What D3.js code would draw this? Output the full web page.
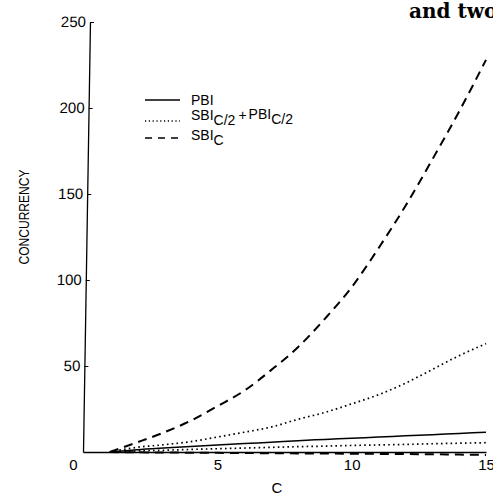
<!DOCTYPE html>
<html>
<head>
<meta charset="utf-8">
<script src="https://cdn.jsdelivr.net/npm/d3@7"></script>
<style>
  body{margin:0;background:#fff;}
  svg{display:block;}
  text{font-family:"Liberation Sans",Arial,Helvetica,sans-serif;fill:#000;}
</style>
</head>
<body>
<script>
// values, C = 1..15
let cVals=[1,2,3,4,5,6,7,8,9,10,11,12,13,14,15];
let pbi=[0,1.3,2.3,3.2,4.0,4.9,5.7,6.6,7.3,8.0,8.7,9.4,10.1,10.8,11.5];
let mixUpper=[0,2.7,4.2,6.0,8.7,11.5,14.5,19.0,23.0,28.0,33.3,40,48,56,63];
let mixLower=[0,0.6,1.0,1.5,1.9,2.3,2.7,3.1,3.4,3.8,4.1,4.4,4.8,5.1,5.4];
let sbiUpper=[0,5.5,11.3,18.1,26.6,35.6,47.6,60.9,77.4,95.8,118.5,143,170,198,228];
let sbiLower=[0,-0.2,-0.3,-0.4,-0.5,-0.6,-0.7,-0.8,-0.9,-1.0,-1.1,-1.2,-1.3,-1.5,-1.7];

let xTicks=[0,5,10,15];
let yTicks=[50,100,150,200,250];

const styles={
  solid:{dash:null,width:1.5},
  dotted:{dash:"1.6,3.2",width:1.7},
  dashed:{dash:"9,6",width:2}
};

let createChart=()=>{
  const w=493, h=496;

  const xScale=d3.scaleLinear().domain([0,15]).range([83,486]);
  const yScale=d3.scaleLinear().domain([0,250]).range([452,22]);

  const svg=d3.select("body")
    .append("svg")
    .attr("width",w)
    .attr("height",h);

  // cut-off caption from the page
  svg.append("text")
    .attr("x",409)
    .attr("y",18)
    .style("font-family","'DejaVu Serif',serif")
    .style("font-weight","bold")
    .style("font-size","20px")
    .text("and two");

  // y axis, the scan leans a little
  const yAxis=d3.axisLeft(yScale)
    .tickValues(yTicks)
    .tickSize(-4)
    .tickSizeOuter(0)
    .tickPadding(4);

  const gy=svg.append("g")
    .attr("transform","translate(0,452) skewX(-0.93) translate(83,-452)")
    .call(yAxis);
  gy.select(".domain").attr("stroke","#000").attr("stroke-width",1.3);
  gy.selectAll(".tick line").attr("stroke","#000").attr("stroke-width",1.2);
  gy.selectAll(".tick text").style("font-size","15px").style("font-family","'Liberation Sans',Arial,sans-serif");

  // x axis
  const xAxis=d3.axisBottom(xScale)
    .tickValues(xTicks)
    .tickSize(0)
    .tickSizeOuter(0)
    .tickPadding(7);

  const gx=svg.append("g")
    .attr("transform","translate(0,452)")
    .call(xAxis);
  gx.select(".domain").attr("stroke","#000").attr("stroke-width",1.3);
  gx.selectAll(".tick text").style("font-size","15px").style("font-family","'Liberation Sans',Arial,sans-serif");
  gx.selectAll(".tick text").filter(d=>d==0).attr("x",-10);

  // axis titles
  svg.append("text")
    .attr("x",277)
    .attr("y",493)
    .attr("text-anchor","middle")
    .style("font-size","15px")
    .text("C");

  svg.append("text")
    .attr("transform","translate(29,217) rotate(-90)")
    .attr("text-anchor","middle")
    .attr("textLength",95)
    .attr("lengthAdjust","spacingAndGlyphs")
    .style("font-size","15px")
    .text("CONCURRENCY");

  // curves
  const series=[
    {vals:pbi,style:"solid"},
    {vals:mixUpper,style:"dotted"},
    {vals:mixLower,style:"dotted"},
    {vals:sbiUpper,style:"dashed"},
    {vals:sbiLower,style:"dashed"}
  ];

  const line=d3.line()
    .x(d=>xScale(d[0]))
    .y(d=>yScale(d[1]))
    .curve(d3.curveMonotoneX);

  svg.selectAll(".curve")
    .data(series)
    .enter()
    .append("path")
    .attr("class","curve")
    .attr("d",s=>line(cVals.map((c,i)=>[c,s.vals[i]])))
    .attr("fill","none")
    .attr("stroke","#000")
    .attr("stroke-width",s=>styles[s.style].width)
    .attr("stroke-dasharray",s=>styles[s.style].dash);

  // legend
  const legend=svg.append("g").attr("transform","translate(145,0)");
  const legendRows=[
    {y:100,style:"solid",dash:null},
    {y:121,style:"dotted",dash:"1.2,2.6"},
    {y:138,style:"dashed",dash:"7,6"}
  ];
  legend.selectAll("line")
    .data(legendRows)
    .enter()
    .append("line")
    .attr("x1",0)
    .attr("x2",35)
    .attr("y1",d=>d.y)
    .attr("y2",d=>d.y)
    .attr("stroke","#000")
    .attr("stroke-width",d=>d.style=="solid"?1.5:1.4)
    .attr("stroke-dasharray",d=>d.dash);

  const t1=legend.append("text").attr("x",46).attr("y",105).style("font-size","14px");
  t1.text("PBI");

  const t2=legend.append("text").attr("x",46).attr("y",120).style("font-size","14px");
  t2.append("tspan").text("SBI");
  t2.append("tspan").attr("dy",5).text("C/2");
  t2.append("tspan").attr("dy",-5).attr("dx",3).text("+");
  t2.append("tspan").attr("dy",-1).attr("dx",2).text("PBI");
  t2.append("tspan").attr("dy",5).text("C/2");

  const t3=legend.append("text").attr("x",46).attr("y",140).style("font-size","14px");
  t3.append("tspan").text("SBI");
  t3.append("tspan").attr("dy",5).text("C");
}

document.addEventListener("DOMContentLoaded",function(){
  createChart();
});
</script>
</body>
</html>
